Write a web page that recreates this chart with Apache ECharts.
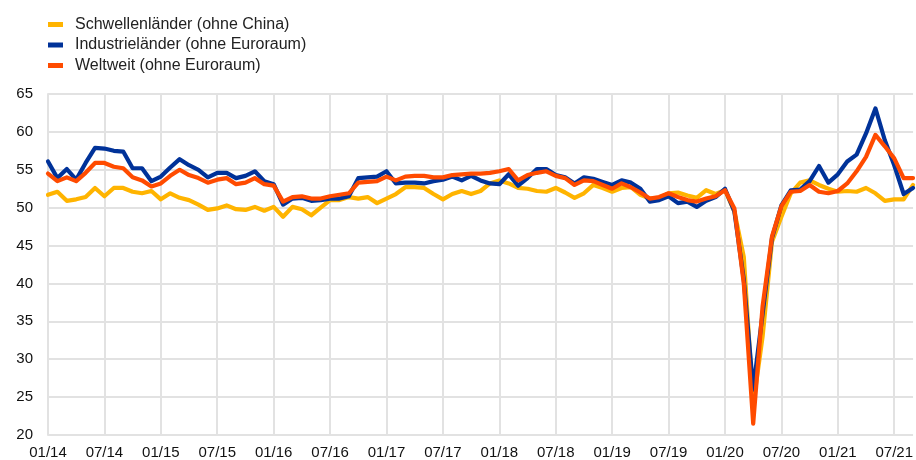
<!DOCTYPE html>
<html>
<head>
<meta charset="utf-8">
<script src="https://cdn.jsdelivr.net/npm/echarts@6/dist/echarts.min.js"></script>
<style>html,body{margin:0;padding:0;background:#fff;}#chart{width:916px;height:460px;}</style>
</head>
<body>
<div id="chart"></div>
<script>
var months = [
"01/14","02/14","03/14","04/14","05/14","06/14","07/14","08/14","09/14","10/14","11/14","12/14",
"01/15","02/15","03/15","04/15","05/15","06/15","07/15","08/15","09/15","10/15","11/15","12/15",
"01/16","02/16","03/16","04/16","05/16","06/16","07/16","08/16","09/16","10/16","11/16","12/16",
"01/17","02/17","03/17","04/17","05/17","06/17","07/17","08/17","09/17","10/17","11/17","12/17",
"01/18","02/18","03/18","04/18","05/18","06/18","07/18","08/18","09/18","10/18","11/18","12/18",
"01/19","02/19","03/19","04/19","05/19","06/19","07/19","08/19","09/19","10/19","11/19","12/19",
"01/20","02/20","03/20","04/20","05/20","06/20","07/20","08/20","09/20","10/20","11/20","12/20",
"01/21","02/21","03/21","04/21","05/21","06/21","07/21","08/21","09/21"];

var seriesNames = ["Schwellenländer (ohne China)", "Industrieländer (ohne Euroraum)", "Weltweit (ohne Euroraum)"];

var emerging = [
51.7,52.1,50.9,51.1,51.4,52.6,51.5,52.6,52.6,52.1,51.9,52.2,
51.1,51.9,51.3,51.0,50.4,49.7,49.9,50.3,49.8,49.7,50.1,49.6,
50.1,48.8,50.1,49.8,49.0,50.0,51.0,51.0,51.4,51.2,51.4,50.6,
51.2,51.8,52.7,52.7,52.6,51.8,51.1,51.8,52.2,51.8,52.2,53.2,
53.6,53.2,52.6,52.5,52.2,52.1,52.6,52.0,51.3,51.9,53.0,52.6,
52.1,52.6,52.7,51.7,51.2,51.3,51.9,52.0,51.6,51.3,52.3,51.8,
52.3,49.5,43.5,24.0,33.0,45.5,48.8,51.9,53.3,53.6,53.0,52.5,
52.1,52.2,52.1,52.6,51.9,50.9,51.1,51.1,53.0];

var advanced = [
56.1,53.9,55.1,53.7,55.9,57.9,57.8,57.5,57.4,55.2,55.2,53.5,
54.1,55.3,56.4,55.6,55.0,54.0,54.6,54.6,53.9,54.2,54.8,53.5,
53.1,50.4,51.2,51.3,50.9,51.0,51.2,51.2,51.5,53.9,54.0,54.1,
54.8,53.2,53.3,53.3,53.2,53.5,53.7,54.1,53.6,54.2,53.6,53.2,
53.1,54.4,52.9,53.9,55.1,55.1,54.3,54.0,53.2,54.0,53.8,53.4,
53.0,53.6,53.3,52.5,50.8,51.0,51.5,50.6,50.8,50.1,50.9,51.4,
52.5,49.5,40.5,26.0,36.0,46.0,50.3,52.3,52.4,53.5,55.5,53.3,
54.4,56.1,57.0,59.8,63.1,58.9,55.6,51.8,52.6];

var world = [
54.5,53.5,54.0,53.5,54.6,55.9,55.9,55.4,55.2,54.0,53.6,52.8,
53.2,54.2,55.0,54.3,53.9,53.3,53.7,53.9,53.1,53.3,53.9,53.1,
52.9,50.8,51.4,51.5,51.2,51.2,51.5,51.7,51.9,53.3,53.4,53.5,
54.1,53.6,54.1,54.2,54.2,54.0,54.0,54.3,54.4,54.5,54.5,54.6,
54.8,55.1,53.6,54.3,54.6,54.8,54.2,53.9,53.0,53.6,53.5,53.0,
52.5,53.2,52.7,52.0,51.2,51.4,51.9,51.4,51.0,50.8,51.2,51.5,
52.3,49.9,40.0,21.5,37.0,46.2,50.2,52.1,52.2,53.0,52.1,51.9,
52.2,53.2,54.8,56.7,59.6,58.1,56.5,53.9,53.9];

var yTicks = {min: 20, max: 65, interval: 5};
var colors = ["#FFB400", "#003299", "#FF4B00"];

var chart = echarts.init(document.getElementById('chart'), null, {renderer: 'canvas'});
function mk(name, data, color) {
  return {
    name: name, type: 'line', data: data, symbol: 'none', smooth: false,
    lineStyle: {width: 4.2, color: color, cap: 'round', join: 'round'},
    itemStyle: {color: color}
  };
}
chart.setOption({
  animation: false,
  backgroundColor: '#ffffff',
  textStyle: {fontFamily: 'Liberation Sans, Arial, sans-serif'},
  legend: {
    orient: 'vertical', left: 48, top: 16.5, itemGap: 4.5, padding: 0,
    itemWidth: 15, itemHeight: 5, icon: 'rect',
    textStyle: {fontSize: 16, color: '#222', padding: [0, 0, 0, 7], fontFamily: 'Liberation Sans, Arial, sans-serif'},
    data: seriesNames
  },
  grid: {left: 48, right: 0, top: 94, bottom: 25, containLabel: false},
  xAxis: {
    type: 'category', data: months, boundaryGap: false,
    axisLine: {show: false}, axisTick: {show: false},
    axisLabel: {interval: 5, fontSize: 15, color: '#111', margin: 10, fontFamily: 'Liberation Sans, Arial, sans-serif'},
    splitLine: {show: true, interval: 5, lineStyle: {color: '#e2e2e2', width: 2}}
  },
  yAxis: {
    type: 'value', min: yTicks.min, max: yTicks.max, interval: yTicks.interval,
    axisLine: {show: true, lineStyle: {color: '#e2e2e2', width: 2}}, axisTick: {show: false},
    axisLabel: {fontSize: 15, color: '#111', margin: 15, fontFamily: 'Liberation Sans, Arial, sans-serif'},
    splitLine: {show: true, lineStyle: {color: '#e2e2e2', width: 2}}
  },
  series: [
    mk(seriesNames[0], emerging, colors[0]),
    mk(seriesNames[1], advanced, colors[1]),
    mk(seriesNames[2], world, colors[2])
  ]
});
</script>
</body>
</html>
